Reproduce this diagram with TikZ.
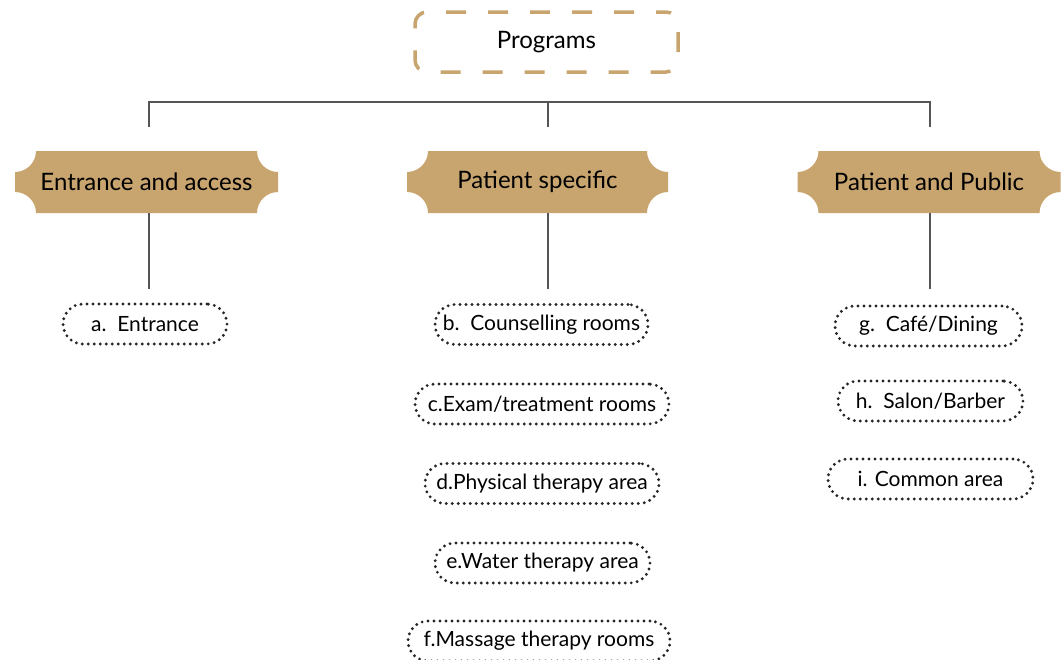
\documentclass[tikz,border=0pt]{standalone}
\usepackage{fontspec}
\setmainfont{Lato}
\definecolor{plaquetan}{HTML}{C8A46E}
\definecolor{linegray}{HTML}{555555}
\tikzset{
  prog/.style={draw=plaquetan, line width=3.5pt, dash pattern=on 20pt off 22pt, dash phase=10pt,
    rounded corners=12pt, minimum width=263pt, minimum height=60pt, inner sep=0pt,
    font=\fontsize{24}{28}\selectfont},
  plaque/.style={minimum width=263pt, minimum height=62pt, inner sep=0pt,
    font=\fontsize{24}{28}\selectfont,
    path picture={\fill[plaquetan]
      ([xshift=21pt]path picture bounding box.north west)
      -- ([xshift=-21pt]path picture bounding box.north east)
      arc[start angle=180,end angle=270,radius=21pt]
      -- ([yshift=21pt]path picture bounding box.south east)
      arc[start angle=90,end angle=180,radius=21pt]
      -- ([xshift=21pt]path picture bounding box.south west)
      arc[start angle=0,end angle=90,radius=21pt]
      -- ([yshift=-21pt]path picture bounding box.north west)
      arc[start angle=270,end angle=360,radius=21pt]
      -- cycle;}},
  pill/.style={draw=black!85, line width=3.2pt, dash pattern=on 0pt off 6pt, line cap=round,
    rounded corners=20pt, minimum height=40pt, inner sep=0pt,
    font=\fontsize{21}{25}\selectfont},
  conn/.style={draw=linegray, line width=1.6pt}
}
\begin{document}
\begin{tikzpicture}[x=1pt,y=1pt]
\useasboundingbox (0,0) rectangle (1063,-659);
% top
\node[prog] (prog) at (546.5,-42) {Programs};
% banners
\node[plaque] (ea) at (146.5,-182) {Entrance and access};
\node[plaque, minimum width=261pt] (ps) at (537.5,-182) {Patient specific};
\node[plaque] (pp) at (929,-182) {Patient and Public};
% pills
\node[pill, minimum width=164pt] (a) at (145,-324) {a.\ \ Entrance};
\node[pill, minimum width=213pt] (b) at (541.5,-324.5) {b.\ \ Counselling rooms};
\node[pill, minimum width=254pt] (c) at (542,-404) {c.Exam/treatment rooms};
\node[pill, minimum width=234pt] (d) at (542,-483.5) {d.Physical therapy area};
\node[pill, minimum width=215pt] (e) at (542.5,-563) {e.Water therapy area};
\node[pill, minimum width=262pt] (f) at (539,-641) {f.Massage therapy rooms};
\node[pill, minimum width=187pt] (g) at (928.5,-326) {g.\ \ Café/Dining};
\node[pill, minimum width=185pt] (h) at (930.5,-401) {h.\ \ Salon/Barber};
\node[pill, minimum width=205pt] (i) at (930.5,-479) {i. Common area};
% bracket
\coordinate (t1) at (149,-102);
\coordinate (t2) at (548,-102);
\coordinate (t3) at (930,-102);
\coordinate (s1) at (149,-127);
\coordinate (s2) at (548,-127);
\coordinate (s3) at (930,-127);
\draw[conn] (s1) -- (t1) -- (t3) -- (s3);
\draw[conn] (t2) -- (s2);
% lower connectors
\coordinate (u1) at (149,-289);
\coordinate (u2) at (548,-289);
\coordinate (u3) at (930,-289);
\draw[conn] (u1 |- ea.south) -- (u1);
\draw[conn] (u2 |- ps.south) -- (u2);
\draw[conn] (u3 |- pp.south) -- (u3);
\end{tikzpicture}
\end{document}
